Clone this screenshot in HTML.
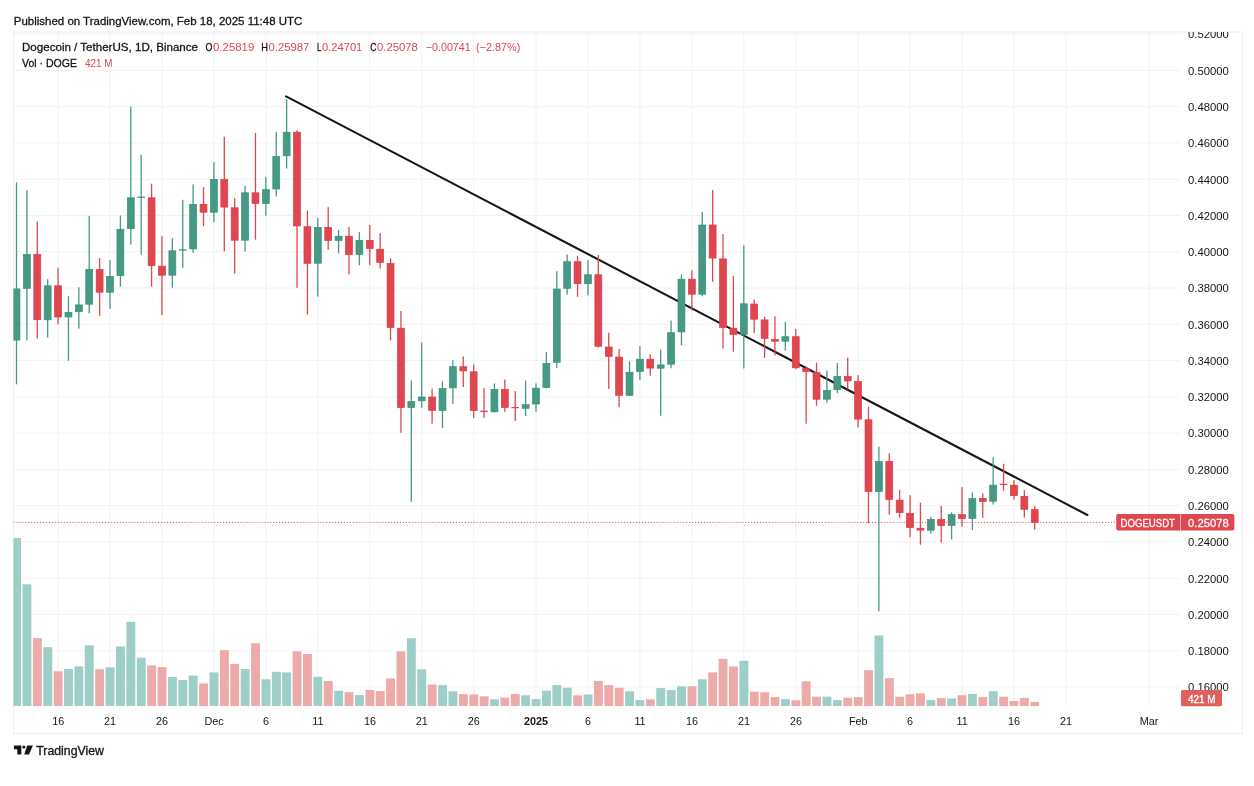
<!DOCTYPE html><html><head><meta charset="utf-8"><title>DOGEUSDT chart</title>
<style>html,body{margin:0;padding:0;background:#fff}svg{display:block;filter:blur(0.4px)}text{font-family:"Liberation Sans",sans-serif;fill:#161616;stroke:currentColor;stroke-width:0}.k{stroke:#161616;stroke-width:.3px}</style></head><body>
<svg width="1254" height="786" viewBox="0 0 1254 786">
<rect width="1254" height="786" fill="#fff"/>
<defs><clipPath id="pane"><rect x="13.5" y="32.0" width="1166.5" height="674.0"/></clipPath>
<clipPath id="axis"><rect x="1180.0" y="32.0" width="62.5" height="674.0"/></clipPath></defs>
<g stroke="#f2f2f2" stroke-width="1">
<line x1="58.06" y1="32.0" x2="58.06" y2="706.0"/>
<line x1="110.01" y1="32.0" x2="110.01" y2="706.0"/>
<line x1="161.96" y1="32.0" x2="161.96" y2="706.0"/>
<line x1="213.91" y1="32.0" x2="213.91" y2="706.0"/>
<line x1="265.86" y1="32.0" x2="265.86" y2="706.0"/>
<line x1="317.81" y1="32.0" x2="317.81" y2="706.0"/>
<line x1="369.76" y1="32.0" x2="369.76" y2="706.0"/>
<line x1="421.71" y1="32.0" x2="421.71" y2="706.0"/>
<line x1="473.66" y1="32.0" x2="473.66" y2="706.0"/>
<line x1="536.0" y1="32.0" x2="536.0" y2="706.0"/>
<line x1="587.95" y1="32.0" x2="587.95" y2="706.0"/>
<line x1="639.9" y1="32.0" x2="639.9" y2="706.0"/>
<line x1="691.85" y1="32.0" x2="691.85" y2="706.0"/>
<line x1="743.8" y1="32.0" x2="743.8" y2="706.0"/>
<line x1="795.75" y1="32.0" x2="795.75" y2="706.0"/>
<line x1="858.09" y1="32.0" x2="858.09" y2="706.0"/>
<line x1="910.04" y1="32.0" x2="910.04" y2="706.0"/>
<line x1="961.99" y1="32.0" x2="961.99" y2="706.0"/>
<line x1="1013.94" y1="32.0" x2="1013.94" y2="706.0"/>
<line x1="1065.89" y1="32.0" x2="1065.89" y2="706.0"/>
<line x1="1149.01" y1="32.0" x2="1149.01" y2="706.0"/>
<line x1="13.5" y1="34.12" x2="1180.0" y2="34.12"/>
<line x1="13.5" y1="70.4" x2="1180.0" y2="70.4"/>
<line x1="13.5" y1="106.67" x2="1180.0" y2="106.67"/>
<line x1="13.5" y1="142.95" x2="1180.0" y2="142.95"/>
<line x1="13.5" y1="179.23" x2="1180.0" y2="179.23"/>
<line x1="13.5" y1="215.5" x2="1180.0" y2="215.5"/>
<line x1="13.5" y1="251.78" x2="1180.0" y2="251.78"/>
<line x1="13.5" y1="288.05" x2="1180.0" y2="288.05"/>
<line x1="13.5" y1="324.33" x2="1180.0" y2="324.33"/>
<line x1="13.5" y1="360.6" x2="1180.0" y2="360.6"/>
<line x1="13.5" y1="396.88" x2="1180.0" y2="396.88"/>
<line x1="13.5" y1="433.15" x2="1180.0" y2="433.15"/>
<line x1="13.5" y1="469.42" x2="1180.0" y2="469.42"/>
<line x1="13.5" y1="505.7" x2="1180.0" y2="505.7"/>
<line x1="13.5" y1="541.98" x2="1180.0" y2="541.98"/>
<line x1="13.5" y1="578.25" x2="1180.0" y2="578.25"/>
<line x1="13.5" y1="614.52" x2="1180.0" y2="614.52"/>
<line x1="13.5" y1="650.8" x2="1180.0" y2="650.8"/>
<line x1="13.5" y1="687.07" x2="1180.0" y2="687.07"/>
</g>
<rect x="13.5" y="32.0" width="1229.0" height="701.5" fill="none" stroke="#eeeeee" stroke-width="1"/>
<g clip-path="url(#pane)">
<rect x="12.1" y="538.0" width="8.9" height="168.0" fill="#9dcec8"/>
<rect x="22.5" y="584.3" width="8.9" height="121.7" fill="#9dcec8"/>
<rect x="32.9" y="638.1" width="8.9" height="67.9" fill="#ecaaa9"/>
<rect x="43.3" y="647.2" width="8.9" height="58.8" fill="#9dcec8"/>
<rect x="53.7" y="671.3" width="8.9" height="34.7" fill="#ecaaa9"/>
<rect x="64.0" y="669" width="8.9" height="37.0" fill="#9dcec8"/>
<rect x="74.4" y="666.4" width="8.9" height="39.6" fill="#9dcec8"/>
<rect x="84.8" y="645.4" width="8.9" height="60.6" fill="#9dcec8"/>
<rect x="95.2" y="669.2" width="8.9" height="36.8" fill="#ecaaa9"/>
<rect x="105.6" y="667.4" width="8.9" height="38.6" fill="#9dcec8"/>
<rect x="116.0" y="646.5" width="8.9" height="59.5" fill="#9dcec8"/>
<rect x="126.4" y="621.8" width="8.9" height="84.2" fill="#9dcec8"/>
<rect x="136.8" y="657.7" width="8.9" height="48.3" fill="#9dcec8"/>
<rect x="147.2" y="665.5" width="8.9" height="40.5" fill="#ecaaa9"/>
<rect x="157.6" y="667.1" width="8.9" height="38.9" fill="#ecaaa9"/>
<rect x="168.0" y="677" width="8.9" height="29.0" fill="#9dcec8"/>
<rect x="178.3" y="680" width="8.9" height="26.0" fill="#9dcec8"/>
<rect x="188.7" y="675.6" width="8.9" height="30.4" fill="#9dcec8"/>
<rect x="199.1" y="683.4" width="8.9" height="22.6" fill="#ecaaa9"/>
<rect x="209.5" y="672.4" width="8.9" height="33.6" fill="#9dcec8"/>
<rect x="219.9" y="650.2" width="8.9" height="55.8" fill="#ecaaa9"/>
<rect x="230.3" y="663.9" width="8.9" height="42.1" fill="#ecaaa9"/>
<rect x="240.7" y="669" width="8.9" height="37.0" fill="#9dcec8"/>
<rect x="251.1" y="643.2" width="8.9" height="62.8" fill="#ecaaa9"/>
<rect x="261.5" y="679.3" width="8.9" height="26.7" fill="#9dcec8"/>
<rect x="271.9" y="671.8" width="8.9" height="34.2" fill="#9dcec8"/>
<rect x="282.2" y="672.4" width="8.9" height="33.6" fill="#9dcec8"/>
<rect x="292.6" y="651.4" width="8.9" height="54.6" fill="#ecaaa9"/>
<rect x="303.0" y="654" width="8.9" height="52.0" fill="#ecaaa9"/>
<rect x="313.4" y="676.8" width="8.9" height="29.2" fill="#9dcec8"/>
<rect x="323.8" y="680.9" width="8.9" height="25.1" fill="#ecaaa9"/>
<rect x="334.2" y="690.9" width="8.9" height="15.1" fill="#9dcec8"/>
<rect x="344.6" y="692.1" width="8.9" height="13.9" fill="#ecaaa9"/>
<rect x="355.0" y="695.1" width="8.9" height="10.9" fill="#9dcec8"/>
<rect x="365.4" y="689.9" width="8.9" height="16.1" fill="#ecaaa9"/>
<rect x="375.8" y="691.1" width="8.9" height="14.9" fill="#ecaaa9"/>
<rect x="386.1" y="678.5" width="8.9" height="27.5" fill="#ecaaa9"/>
<rect x="396.5" y="651.4" width="8.9" height="54.6" fill="#ecaaa9"/>
<rect x="406.9" y="638.3" width="8.9" height="67.7" fill="#9dcec8"/>
<rect x="417.3" y="669.4" width="8.9" height="36.6" fill="#9dcec8"/>
<rect x="427.7" y="684.5" width="8.9" height="21.5" fill="#ecaaa9"/>
<rect x="438.1" y="685.1" width="8.9" height="20.9" fill="#9dcec8"/>
<rect x="448.5" y="691.3" width="8.9" height="14.7" fill="#9dcec8"/>
<rect x="458.9" y="694.1" width="8.9" height="11.9" fill="#ecaaa9"/>
<rect x="469.3" y="694.5" width="8.9" height="11.5" fill="#ecaaa9"/>
<rect x="479.7" y="696.3" width="8.9" height="9.7" fill="#ecaaa9"/>
<rect x="490.0" y="699.3" width="8.9" height="6.7" fill="#9dcec8"/>
<rect x="500.4" y="697.7" width="8.9" height="8.3" fill="#ecaaa9"/>
<rect x="510.8" y="693.9" width="8.9" height="12.1" fill="#ecaaa9"/>
<rect x="521.2" y="695.3" width="8.9" height="10.7" fill="#9dcec8"/>
<rect x="531.6" y="699.1" width="8.9" height="6.9" fill="#9dcec8"/>
<rect x="542.0" y="690.7" width="8.9" height="15.3" fill="#9dcec8"/>
<rect x="552.4" y="685.1" width="8.9" height="20.9" fill="#9dcec8"/>
<rect x="562.8" y="687.7" width="8.9" height="18.3" fill="#9dcec8"/>
<rect x="573.2" y="695.3" width="8.9" height="10.7" fill="#ecaaa9"/>
<rect x="583.6" y="694.5" width="8.9" height="11.5" fill="#9dcec8"/>
<rect x="593.9" y="680.9" width="8.9" height="25.1" fill="#ecaaa9"/>
<rect x="604.3" y="685.1" width="8.9" height="20.9" fill="#ecaaa9"/>
<rect x="614.7" y="687.7" width="8.9" height="18.3" fill="#ecaaa9"/>
<rect x="625.1" y="691.3" width="8.9" height="14.7" fill="#9dcec8"/>
<rect x="635.5" y="700.1" width="8.9" height="5.9" fill="#9dcec8"/>
<rect x="645.9" y="699.3" width="8.9" height="6.7" fill="#ecaaa9"/>
<rect x="656.3" y="688.1" width="8.9" height="17.9" fill="#9dcec8"/>
<rect x="666.7" y="690.1" width="8.9" height="15.9" fill="#9dcec8"/>
<rect x="677.1" y="686.3" width="8.9" height="19.7" fill="#9dcec8"/>
<rect x="687.5" y="686.3" width="8.9" height="19.7" fill="#ecaaa9"/>
<rect x="697.8" y="679.3" width="8.9" height="26.7" fill="#9dcec8"/>
<rect x="708.2" y="672.4" width="8.9" height="33.6" fill="#ecaaa9"/>
<rect x="718.6" y="658.8" width="8.9" height="47.2" fill="#ecaaa9"/>
<rect x="729.0" y="666.4" width="8.9" height="39.6" fill="#ecaaa9"/>
<rect x="739.4" y="660.8" width="8.9" height="45.2" fill="#9dcec8"/>
<rect x="749.8" y="691.7" width="8.9" height="14.3" fill="#ecaaa9"/>
<rect x="760.2" y="692.3" width="8.9" height="13.7" fill="#ecaaa9"/>
<rect x="770.6" y="697.1" width="8.9" height="8.9" fill="#ecaaa9"/>
<rect x="781.0" y="699.1" width="8.9" height="6.9" fill="#9dcec8"/>
<rect x="791.4" y="700.3" width="8.9" height="5.7" fill="#ecaaa9"/>
<rect x="801.7" y="681.3" width="8.9" height="24.7" fill="#ecaaa9"/>
<rect x="812.1" y="696.7" width="8.9" height="9.3" fill="#ecaaa9"/>
<rect x="822.5" y="696.7" width="8.9" height="9.3" fill="#9dcec8"/>
<rect x="832.9" y="700.1" width="8.9" height="5.9" fill="#9dcec8"/>
<rect x="843.3" y="697.7" width="8.9" height="8.3" fill="#ecaaa9"/>
<rect x="853.7" y="697.1" width="8.9" height="8.9" fill="#ecaaa9"/>
<rect x="864.1" y="670.2" width="8.9" height="35.8" fill="#ecaaa9"/>
<rect x="874.5" y="635.5" width="8.9" height="70.5" fill="#9dcec8"/>
<rect x="884.9" y="678.2" width="8.9" height="27.8" fill="#ecaaa9"/>
<rect x="895.3" y="696.7" width="8.9" height="9.3" fill="#ecaaa9"/>
<rect x="905.6" y="694.3" width="8.9" height="11.7" fill="#ecaaa9"/>
<rect x="916.0" y="693.3" width="8.9" height="12.7" fill="#ecaaa9"/>
<rect x="926.4" y="700.1" width="8.9" height="5.9" fill="#9dcec8"/>
<rect x="936.8" y="698.1" width="8.9" height="7.9" fill="#ecaaa9"/>
<rect x="947.2" y="698.5" width="8.9" height="7.5" fill="#9dcec8"/>
<rect x="957.6" y="695.2" width="8.9" height="10.8" fill="#ecaaa9"/>
<rect x="968.0" y="693.9" width="8.9" height="12.1" fill="#9dcec8"/>
<rect x="978.4" y="696.9" width="8.9" height="9.1" fill="#ecaaa9"/>
<rect x="988.8" y="691.2" width="8.9" height="14.8" fill="#9dcec8"/>
<rect x="999.2" y="696.7" width="8.9" height="9.3" fill="#ecaaa9"/>
<rect x="1009.5" y="701" width="8.9" height="5.0" fill="#ecaaa9"/>
<rect x="1019.9" y="697.9" width="8.9" height="8.1" fill="#ecaaa9"/>
<rect x="1030.3" y="702" width="8.9" height="4.0" fill="#ecaaa9"/>
<line x1="286.1" y1="96.4" x2="1087.4" y2="515" stroke="#161616" stroke-width="2.1" stroke-linecap="round"/>
<rect x="15.85" y="182.4" width="1.3" height="201.9" fill="#469a84"/>
<rect x="13.05" y="288.9" width="6.9" height="51.2" fill="#469a84" stroke="#3a8f79" stroke-width="0.7"/>
<rect x="26.24" y="190.3" width="1.3" height="150.1" fill="#469a84"/>
<rect x="23.44" y="254.4" width="6.9" height="33.9" fill="#469a84" stroke="#3a8f79" stroke-width="0.7"/>
<rect x="36.63" y="221.5" width="1.3" height="117.0" fill="#df4750"/>
<rect x="33.83" y="254.4" width="6.9" height="65.3" fill="#df4750" stroke="#d93b46" stroke-width="0.7"/>
<rect x="47.02" y="279.2" width="1.3" height="58.3" fill="#469a84"/>
<rect x="44.22" y="285.8" width="6.9" height="34.0" fill="#469a84" stroke="#3a8f79" stroke-width="0.7"/>
<rect x="57.41" y="267.6" width="1.3" height="56.8" fill="#df4750"/>
<rect x="54.61" y="285.8" width="6.9" height="31.2" fill="#df4750" stroke="#d93b46" stroke-width="0.7"/>
<rect x="67.80" y="296.2" width="1.3" height="64.6" fill="#469a84"/>
<rect x="65.00" y="312.4" width="6.9" height="4.6" fill="#469a84" stroke="#3a8f79" stroke-width="0.7"/>
<rect x="78.19" y="287.3" width="1.3" height="41.4" fill="#469a84"/>
<rect x="75.39" y="304.9" width="6.9" height="6.8" fill="#469a84" stroke="#3a8f79" stroke-width="0.7"/>
<rect x="88.58" y="215.9" width="1.3" height="97.4" fill="#469a84"/>
<rect x="85.78" y="269.4" width="6.9" height="34.8" fill="#469a84" stroke="#3a8f79" stroke-width="0.7"/>
<rect x="98.97" y="258.0" width="1.3" height="57.8" fill="#df4750"/>
<rect x="96.17" y="269.4" width="6.9" height="22.8" fill="#df4750" stroke="#d93b46" stroke-width="0.7"/>
<rect x="109.36" y="260.1" width="1.3" height="48.7" fill="#469a84"/>
<rect x="106.56" y="276.4" width="6.9" height="15.8" fill="#469a84" stroke="#3a8f79" stroke-width="0.7"/>
<rect x="119.75" y="215.5" width="1.3" height="71.2" fill="#469a84"/>
<rect x="116.95" y="229.3" width="6.9" height="46.4" fill="#469a84" stroke="#3a8f79" stroke-width="0.7"/>
<rect x="130.14" y="106.7" width="1.3" height="137.9" fill="#469a84"/>
<rect x="127.34" y="197.8" width="6.9" height="30.9" fill="#469a84" stroke="#3a8f79" stroke-width="0.7"/>
<rect x="140.53" y="154.6" width="1.3" height="100.2" fill="#469a84"/>
<rect x="137.38" y="196.6" width="7.6" height="1.3" fill="#469a84"/>
<rect x="150.92" y="183.7" width="1.3" height="103.0" fill="#df4750"/>
<rect x="148.12" y="197.8" width="6.9" height="67.8" fill="#df4750" stroke="#d93b46" stroke-width="0.7"/>
<rect x="161.31" y="236.2" width="1.3" height="79.0" fill="#df4750"/>
<rect x="158.51" y="266.2" width="6.9" height="9.0" fill="#df4750" stroke="#d93b46" stroke-width="0.7"/>
<rect x="171.70" y="238.3" width="1.3" height="49.4" fill="#469a84"/>
<rect x="168.90" y="250.8" width="6.9" height="24.4" fill="#469a84" stroke="#3a8f79" stroke-width="0.7"/>
<rect x="182.09" y="199.8" width="1.3" height="68.0" fill="#469a84"/>
<rect x="178.94" y="249.3" width="7.6" height="1.4" fill="#469a84"/>
<rect x="192.48" y="184.4" width="1.3" height="68.5" fill="#469a84"/>
<rect x="189.68" y="204.4" width="6.9" height="44.5" fill="#469a84" stroke="#3a8f79" stroke-width="0.7"/>
<rect x="202.87" y="187.1" width="1.3" height="39.2" fill="#df4750"/>
<rect x="200.07" y="204.4" width="6.9" height="7.8" fill="#df4750" stroke="#d93b46" stroke-width="0.7"/>
<rect x="213.26" y="162.1" width="1.3" height="60.0" fill="#469a84"/>
<rect x="210.46" y="179.3" width="6.9" height="32.9" fill="#469a84" stroke="#3a8f79" stroke-width="0.7"/>
<rect x="223.65" y="136.7" width="1.3" height="114.6" fill="#df4750"/>
<rect x="220.85" y="179.3" width="6.9" height="27.8" fill="#df4750" stroke="#d93b46" stroke-width="0.7"/>
<rect x="234.04" y="198.1" width="1.3" height="75.4" fill="#df4750"/>
<rect x="231.24" y="207.8" width="6.9" height="32.4" fill="#df4750" stroke="#d93b46" stroke-width="0.7"/>
<rect x="244.43" y="185.7" width="1.3" height="65.9" fill="#469a84"/>
<rect x="241.63" y="192.8" width="6.9" height="47.4" fill="#469a84" stroke="#3a8f79" stroke-width="0.7"/>
<rect x="254.82" y="133.1" width="1.3" height="106.6" fill="#df4750"/>
<rect x="252.02" y="192.8" width="6.9" height="10.7" fill="#df4750" stroke="#d93b46" stroke-width="0.7"/>
<rect x="265.21" y="176.9" width="1.3" height="38.8" fill="#469a84"/>
<rect x="262.41" y="189.7" width="6.9" height="13.8" fill="#469a84" stroke="#3a8f79" stroke-width="0.7"/>
<rect x="275.60" y="131.9" width="1.3" height="64.6" fill="#469a84"/>
<rect x="272.80" y="156.5" width="6.9" height="32.5" fill="#469a84" stroke="#3a8f79" stroke-width="0.7"/>
<rect x="285.99" y="99.3" width="1.3" height="69.2" fill="#469a84"/>
<rect x="283.19" y="132.2" width="6.9" height="23.6" fill="#469a84" stroke="#3a8f79" stroke-width="0.7"/>
<rect x="296.38" y="130.2" width="1.3" height="157.6" fill="#df4750"/>
<rect x="293.58" y="132.2" width="6.9" height="93.7" fill="#df4750" stroke="#d93b46" stroke-width="0.7"/>
<rect x="306.77" y="210.5" width="1.3" height="104.1" fill="#df4750"/>
<rect x="303.97" y="226.7" width="6.9" height="36.6" fill="#df4750" stroke="#d93b46" stroke-width="0.7"/>
<rect x="317.16" y="218.1" width="1.3" height="78.5" fill="#469a84"/>
<rect x="314.36" y="227.4" width="6.9" height="35.8" fill="#469a84" stroke="#3a8f79" stroke-width="0.7"/>
<rect x="327.55" y="207.1" width="1.3" height="42.6" fill="#df4750"/>
<rect x="324.75" y="227.4" width="6.9" height="13.0" fill="#df4750" stroke="#d93b46" stroke-width="0.7"/>
<rect x="337.94" y="229.8" width="1.3" height="23.6" fill="#469a84"/>
<rect x="335.14" y="236.2" width="6.9" height="4.3" fill="#469a84" stroke="#3a8f79" stroke-width="0.7"/>
<rect x="348.33" y="226.9" width="1.3" height="47.5" fill="#df4750"/>
<rect x="345.53" y="236.2" width="6.9" height="18.3" fill="#df4750" stroke="#d93b46" stroke-width="0.7"/>
<rect x="358.72" y="232.0" width="1.3" height="33.2" fill="#469a84"/>
<rect x="355.92" y="240.4" width="6.9" height="14.0" fill="#469a84" stroke="#3a8f79" stroke-width="0.7"/>
<rect x="369.11" y="225.0" width="1.3" height="40.2" fill="#df4750"/>
<rect x="366.31" y="240.4" width="6.9" height="8.1" fill="#df4750" stroke="#d93b46" stroke-width="0.7"/>
<rect x="379.50" y="233.0" width="1.3" height="35.4" fill="#df4750"/>
<rect x="376.70" y="249.2" width="6.9" height="13.2" fill="#df4750" stroke="#d93b46" stroke-width="0.7"/>
<rect x="389.89" y="258.3" width="1.3" height="82.1" fill="#df4750"/>
<rect x="387.09" y="263.5" width="6.9" height="64.0" fill="#df4750" stroke="#d93b46" stroke-width="0.7"/>
<rect x="400.28" y="311.1" width="1.3" height="121.7" fill="#df4750"/>
<rect x="397.48" y="328.2" width="6.9" height="79.3" fill="#df4750" stroke="#d93b46" stroke-width="0.7"/>
<rect x="410.67" y="380.4" width="1.3" height="121.4" fill="#469a84"/>
<rect x="407.87" y="401.5" width="6.9" height="6.0" fill="#469a84" stroke="#3a8f79" stroke-width="0.7"/>
<rect x="421.06" y="342.4" width="1.3" height="65.4" fill="#469a84"/>
<rect x="418.26" y="397.0" width="6.9" height="3.8" fill="#469a84" stroke="#3a8f79" stroke-width="0.7"/>
<rect x="431.45" y="388.6" width="1.3" height="35.1" fill="#df4750"/>
<rect x="428.65" y="397.0" width="6.9" height="13.4" fill="#df4750" stroke="#d93b46" stroke-width="0.7"/>
<rect x="441.84" y="381.1" width="1.3" height="46.9" fill="#469a84"/>
<rect x="439.04" y="388.6" width="6.9" height="21.8" fill="#469a84" stroke="#3a8f79" stroke-width="0.7"/>
<rect x="452.23" y="360.2" width="1.3" height="43.6" fill="#469a84"/>
<rect x="449.43" y="366.7" width="6.9" height="21.2" fill="#469a84" stroke="#3a8f79" stroke-width="0.7"/>
<rect x="462.62" y="356.4" width="1.3" height="30.6" fill="#df4750"/>
<rect x="459.82" y="366.7" width="6.9" height="4.2" fill="#df4750" stroke="#d93b46" stroke-width="0.7"/>
<rect x="473.01" y="364.4" width="1.3" height="53.7" fill="#df4750"/>
<rect x="470.21" y="371.8" width="6.9" height="38.6" fill="#df4750" stroke="#d93b46" stroke-width="0.7"/>
<rect x="483.40" y="388.2" width="1.3" height="29.5" fill="#df4750"/>
<rect x="480.25" y="410.7" width="7.6" height="1.4" fill="#df4750"/>
<rect x="493.79" y="383.4" width="1.3" height="29.2" fill="#469a84"/>
<rect x="490.99" y="389.5" width="6.9" height="22.3" fill="#469a84" stroke="#3a8f79" stroke-width="0.7"/>
<rect x="504.18" y="379.6" width="1.3" height="32.2" fill="#df4750"/>
<rect x="501.38" y="389.5" width="6.9" height="18.0" fill="#df4750" stroke="#d93b46" stroke-width="0.7"/>
<rect x="514.57" y="391.0" width="1.3" height="30.0" fill="#df4750"/>
<rect x="511.42" y="407.0" width="7.6" height="1.2" fill="#df4750"/>
<rect x="524.96" y="380.4" width="1.3" height="35.8" fill="#469a84"/>
<rect x="522.16" y="404.7" width="6.9" height="3.6" fill="#469a84" stroke="#3a8f79" stroke-width="0.7"/>
<rect x="535.35" y="383.4" width="1.3" height="28.4" fill="#469a84"/>
<rect x="532.55" y="388.2" width="6.9" height="15.8" fill="#469a84" stroke="#3a8f79" stroke-width="0.7"/>
<rect x="545.74" y="352.0" width="1.3" height="36.3" fill="#469a84"/>
<rect x="542.94" y="363.5" width="6.9" height="24.0" fill="#469a84" stroke="#3a8f79" stroke-width="0.7"/>
<rect x="556.13" y="271.2" width="1.3" height="96.9" fill="#469a84"/>
<rect x="553.33" y="289.0" width="6.9" height="73.3" fill="#469a84" stroke="#3a8f79" stroke-width="0.7"/>
<rect x="566.52" y="254.5" width="1.3" height="40.1" fill="#469a84"/>
<rect x="563.72" y="261.7" width="6.9" height="26.6" fill="#469a84" stroke="#3a8f79" stroke-width="0.7"/>
<rect x="576.91" y="256.1" width="1.3" height="40.7" fill="#df4750"/>
<rect x="574.11" y="261.7" width="6.9" height="22.0" fill="#df4750" stroke="#d93b46" stroke-width="0.7"/>
<rect x="587.30" y="260.2" width="1.3" height="35.1" fill="#469a84"/>
<rect x="584.50" y="274.8" width="6.9" height="8.9" fill="#469a84" stroke="#3a8f79" stroke-width="0.7"/>
<rect x="597.69" y="255.0" width="1.3" height="92.4" fill="#df4750"/>
<rect x="594.89" y="274.8" width="6.9" height="71.5" fill="#df4750" stroke="#d93b46" stroke-width="0.7"/>
<rect x="608.08" y="332.7" width="1.3" height="56.2" fill="#df4750"/>
<rect x="605.28" y="347.0" width="6.9" height="9.4" fill="#df4750" stroke="#d93b46" stroke-width="0.7"/>
<rect x="618.47" y="349.0" width="1.3" height="58.2" fill="#df4750"/>
<rect x="615.67" y="357.1" width="6.9" height="38.2" fill="#df4750" stroke="#d93b46" stroke-width="0.7"/>
<rect x="628.86" y="361.3" width="1.3" height="34.5" fill="#469a84"/>
<rect x="626.06" y="372.2" width="6.9" height="23.1" fill="#469a84" stroke="#3a8f79" stroke-width="0.7"/>
<rect x="639.25" y="346.1" width="1.3" height="33.7" fill="#469a84"/>
<rect x="636.45" y="359.2" width="6.9" height="12.2" fill="#469a84" stroke="#3a8f79" stroke-width="0.7"/>
<rect x="649.64" y="354.3" width="1.3" height="21.5" fill="#df4750"/>
<rect x="646.84" y="359.2" width="6.9" height="8.9" fill="#df4750" stroke="#d93b46" stroke-width="0.7"/>
<rect x="660.03" y="349.5" width="1.3" height="66.2" fill="#469a84"/>
<rect x="657.23" y="364.9" width="6.9" height="3.3" fill="#469a84" stroke="#3a8f79" stroke-width="0.7"/>
<rect x="670.42" y="320.6" width="1.3" height="47.5" fill="#469a84"/>
<rect x="667.62" y="332.7" width="6.9" height="31.5" fill="#469a84" stroke="#3a8f79" stroke-width="0.7"/>
<rect x="680.81" y="274.4" width="1.3" height="70.9" fill="#469a84"/>
<rect x="678.01" y="279.2" width="6.9" height="52.7" fill="#469a84" stroke="#3a8f79" stroke-width="0.7"/>
<rect x="691.20" y="270.3" width="1.3" height="40.1" fill="#df4750"/>
<rect x="688.40" y="279.2" width="6.9" height="15.0" fill="#df4750" stroke="#d93b46" stroke-width="0.7"/>
<rect x="701.59" y="211.9" width="1.3" height="84.5" fill="#469a84"/>
<rect x="698.79" y="225.0" width="6.9" height="69.2" fill="#469a84" stroke="#3a8f79" stroke-width="0.7"/>
<rect x="711.98" y="190.0" width="1.3" height="91.8" fill="#df4750"/>
<rect x="709.18" y="225.0" width="6.9" height="33.1" fill="#df4750" stroke="#d93b46" stroke-width="0.7"/>
<rect x="722.37" y="234.2" width="1.3" height="114.3" fill="#df4750"/>
<rect x="719.57" y="258.9" width="6.9" height="68.6" fill="#df4750" stroke="#d93b46" stroke-width="0.7"/>
<rect x="732.76" y="276.2" width="1.3" height="75.5" fill="#df4750"/>
<rect x="729.96" y="328.2" width="6.9" height="6.2" fill="#df4750" stroke="#d93b46" stroke-width="0.7"/>
<rect x="743.15" y="245.4" width="1.3" height="123.1" fill="#469a84"/>
<rect x="740.35" y="303.8" width="6.9" height="30.6" fill="#469a84" stroke="#3a8f79" stroke-width="0.7"/>
<rect x="753.54" y="299.6" width="1.3" height="33.5" fill="#df4750"/>
<rect x="750.74" y="304.0" width="6.9" height="15.2" fill="#df4750" stroke="#d93b46" stroke-width="0.7"/>
<rect x="763.93" y="316.6" width="1.3" height="41.2" fill="#df4750"/>
<rect x="761.13" y="319.9" width="6.9" height="18.4" fill="#df4750" stroke="#d93b46" stroke-width="0.7"/>
<rect x="774.32" y="316.3" width="1.3" height="39.1" fill="#df4750"/>
<rect x="771.52" y="339.5" width="6.9" height="1.7" fill="#df4750" stroke="#d93b46" stroke-width="0.7"/>
<rect x="784.71" y="321.9" width="1.3" height="28.7" fill="#469a84"/>
<rect x="781.91" y="336.7" width="6.9" height="4.5" fill="#469a84" stroke="#3a8f79" stroke-width="0.7"/>
<rect x="795.10" y="329.1" width="1.3" height="40.2" fill="#df4750"/>
<rect x="792.30" y="336.7" width="6.9" height="31.1" fill="#df4750" stroke="#d93b46" stroke-width="0.7"/>
<rect x="805.49" y="366.2" width="1.3" height="57.5" fill="#df4750"/>
<rect x="802.69" y="368.5" width="6.9" height="2.9" fill="#df4750" stroke="#d93b46" stroke-width="0.7"/>
<rect x="815.88" y="362.6" width="1.3" height="43.1" fill="#df4750"/>
<rect x="813.08" y="372.4" width="6.9" height="26.8" fill="#df4750" stroke="#d93b46" stroke-width="0.7"/>
<rect x="826.27" y="370.5" width="1.3" height="32.1" fill="#469a84"/>
<rect x="823.47" y="390.4" width="6.9" height="8.8" fill="#469a84" stroke="#3a8f79" stroke-width="0.7"/>
<rect x="836.66" y="363.0" width="1.3" height="30.2" fill="#469a84"/>
<rect x="833.86" y="376.5" width="6.9" height="13.2" fill="#469a84" stroke="#3a8f79" stroke-width="0.7"/>
<rect x="847.05" y="357.8" width="1.3" height="31.9" fill="#df4750"/>
<rect x="844.25" y="376.5" width="6.9" height="4.4" fill="#df4750" stroke="#d93b46" stroke-width="0.7"/>
<rect x="857.44" y="375.0" width="1.3" height="52.4" fill="#df4750"/>
<rect x="854.64" y="381.6" width="6.9" height="37.5" fill="#df4750" stroke="#d93b46" stroke-width="0.7"/>
<rect x="867.83" y="406.6" width="1.3" height="116.7" fill="#df4750"/>
<rect x="865.03" y="419.8" width="6.9" height="71.7" fill="#df4750" stroke="#d93b46" stroke-width="0.7"/>
<rect x="878.22" y="446.5" width="1.3" height="164.8" fill="#469a84"/>
<rect x="875.42" y="461.6" width="6.9" height="29.9" fill="#469a84" stroke="#3a8f79" stroke-width="0.7"/>
<rect x="888.61" y="453.3" width="1.3" height="61.4" fill="#df4750"/>
<rect x="885.81" y="461.4" width="6.9" height="38.0" fill="#df4750" stroke="#d93b46" stroke-width="0.7"/>
<rect x="899.00" y="489.8" width="1.3" height="28.1" fill="#df4750"/>
<rect x="896.20" y="500.1" width="6.9" height="12.5" fill="#df4750" stroke="#d93b46" stroke-width="0.7"/>
<rect x="909.39" y="495.2" width="1.3" height="42.0" fill="#df4750"/>
<rect x="906.59" y="513.5" width="6.9" height="14.1" fill="#df4750" stroke="#d93b46" stroke-width="0.7"/>
<rect x="919.78" y="502.7" width="1.3" height="42.0" fill="#df4750"/>
<rect x="916.98" y="528.2" width="6.9" height="1.9" fill="#df4750" stroke="#d93b46" stroke-width="0.7"/>
<rect x="930.17" y="516.8" width="1.3" height="17.0" fill="#469a84"/>
<rect x="927.37" y="519.4" width="6.9" height="10.8" fill="#469a84" stroke="#3a8f79" stroke-width="0.7"/>
<rect x="940.56" y="506.1" width="1.3" height="36.5" fill="#df4750"/>
<rect x="937.76" y="519.4" width="6.9" height="6.2" fill="#df4750" stroke="#d93b46" stroke-width="0.7"/>
<rect x="950.95" y="512.3" width="1.3" height="27.1" fill="#469a84"/>
<rect x="948.15" y="514.6" width="6.9" height="11.0" fill="#469a84" stroke="#3a8f79" stroke-width="0.7"/>
<rect x="961.34" y="487.1" width="1.3" height="39.6" fill="#df4750"/>
<rect x="958.54" y="514.6" width="6.9" height="3.8" fill="#df4750" stroke="#d93b46" stroke-width="0.7"/>
<rect x="971.73" y="492.4" width="1.3" height="37.6" fill="#469a84"/>
<rect x="968.93" y="498.5" width="6.9" height="19.9" fill="#469a84" stroke="#3a8f79" stroke-width="0.7"/>
<rect x="982.12" y="493.2" width="1.3" height="24.7" fill="#df4750"/>
<rect x="979.32" y="498.5" width="6.9" height="2.8" fill="#df4750" stroke="#d93b46" stroke-width="0.7"/>
<rect x="992.51" y="457.4" width="1.3" height="47.1" fill="#469a84"/>
<rect x="989.71" y="485.2" width="6.9" height="16.0" fill="#469a84" stroke="#3a8f79" stroke-width="0.7"/>
<rect x="1002.90" y="463.8" width="1.3" height="27.0" fill="#df4750"/>
<rect x="999.75" y="483.8" width="7.6" height="1.2" fill="#df4750"/>
<rect x="1013.29" y="480.1" width="1.3" height="19.6" fill="#df4750"/>
<rect x="1010.49" y="485.2" width="6.9" height="10.4" fill="#df4750" stroke="#d93b46" stroke-width="0.7"/>
<rect x="1023.68" y="490.1" width="1.3" height="27.5" fill="#df4750"/>
<rect x="1020.88" y="496.4" width="6.9" height="12.9" fill="#df4750" stroke="#d93b46" stroke-width="0.7"/>
<rect x="1034.07" y="506.1" width="1.3" height="23.4" fill="#df4750"/>
<rect x="1031.27" y="509.7" width="6.9" height="12.8" fill="#df4750" stroke="#d93b46" stroke-width="0.7"/>
<line x1="13.5" y1="522.4" x2="1116" y2="522.4" stroke="#e34d55" stroke-width="1" stroke-dasharray="1.1 1.85"/>
</g>
<g class="k" clip-path="url(#axis)" font-size="11.4">
<text x="1188" y="38.4" textLength="40.8" lengthAdjust="spacingAndGlyphs">0.52000</text>
<text x="1188" y="74.7" textLength="40.8" lengthAdjust="spacingAndGlyphs">0.50000</text>
<text x="1188" y="111.0" textLength="40.8" lengthAdjust="spacingAndGlyphs">0.48000</text>
<text x="1188" y="147.2" textLength="40.8" lengthAdjust="spacingAndGlyphs">0.46000</text>
<text x="1188" y="183.5" textLength="40.8" lengthAdjust="spacingAndGlyphs">0.44000</text>
<text x="1188" y="219.8" textLength="40.8" lengthAdjust="spacingAndGlyphs">0.42000</text>
<text x="1188" y="256.1" textLength="40.8" lengthAdjust="spacingAndGlyphs">0.40000</text>
<text x="1188" y="292.4" textLength="40.8" lengthAdjust="spacingAndGlyphs">0.38000</text>
<text x="1188" y="328.6" textLength="40.8" lengthAdjust="spacingAndGlyphs">0.36000</text>
<text x="1188" y="364.9" textLength="40.8" lengthAdjust="spacingAndGlyphs">0.34000</text>
<text x="1188" y="401.2" textLength="40.8" lengthAdjust="spacingAndGlyphs">0.32000</text>
<text x="1188" y="437.4" textLength="40.8" lengthAdjust="spacingAndGlyphs">0.30000</text>
<text x="1188" y="473.7" textLength="40.8" lengthAdjust="spacingAndGlyphs">0.28000</text>
<text x="1188" y="510.0" textLength="40.8" lengthAdjust="spacingAndGlyphs">0.26000</text>
<text x="1188" y="546.3" textLength="40.8" lengthAdjust="spacingAndGlyphs">0.24000</text>
<text x="1188" y="582.5" textLength="40.8" lengthAdjust="spacingAndGlyphs">0.22000</text>
<text x="1188" y="618.8" textLength="40.8" lengthAdjust="spacingAndGlyphs">0.20000</text>
<text x="1188" y="655.1" textLength="40.8" lengthAdjust="spacingAndGlyphs">0.18000</text>
<text x="1188" y="691.4" textLength="40.8" lengthAdjust="spacingAndGlyphs">0.16000</text>
</g>
<rect x="1116.2" y="514.1" width="118.2" height="16.4" rx="2" fill="#e0474f"/>
<rect x="1180" y="514.1" width="1" height="16.4" fill="#f3b9bc"/>
<text x="1120.5" y="526.6" font-size="11.4" textLength="54.5" lengthAdjust="spacingAndGlyphs" style="fill:#fff;stroke:#fff;stroke-width:.3px">DOGEUSDT</text>
<text x="1188" y="526.6" font-size="11.4" textLength="40.8" lengthAdjust="spacingAndGlyphs" style="fill:#fff;stroke:#fff;stroke-width:.3px">0.25078</text>
<rect x="1181" y="690" width="41" height="16.3" rx="1.5" fill="#de615d"/>
<text x="1188" y="702.6" font-size="11.4" textLength="27.5" lengthAdjust="spacingAndGlyphs" style="fill:#fff;stroke:#fff;stroke-width:.3px">421 M</text>
<g class="k" font-size="10.8" text-anchor="middle">
<text x="58.2" y="724.5">16</text>
<text x="110.1" y="724.5">21</text>
<text x="162.1" y="724.5">26</text>
<text x="214.0" y="724.5">Dec</text>
<text x="266.0" y="724.5">6</text>
<text x="317.9" y="724.5">11</text>
<text x="369.9" y="724.5">16</text>
<text x="421.8" y="724.5">21</text>
<text x="473.8" y="724.5">26</text>
<text x="536.1" y="724.5" font-weight="bold">2025</text>
<text x="588.1" y="724.5">6</text>
<text x="640.0" y="724.5">11</text>
<text x="692.0" y="724.5">16</text>
<text x="743.9" y="724.5">21</text>
<text x="795.9" y="724.5">26</text>
<text x="858.2" y="724.5">Feb</text>
<text x="910.1" y="724.5">6</text>
<text x="962.1" y="724.5">11</text>
<text x="1014.0" y="724.5">16</text>
<text x="1066.0" y="724.5">21</text>
<text x="1149.1" y="724.5">Mar</text>
</g>
<text class="k" x="13.8" y="24.6" font-size="11.6" textLength="288.5" lengthAdjust="spacingAndGlyphs">Published on TradingView.com, Feb 18, 2025 11:48 UTC</text>
<g font-size="11.4">
<text class="k" x="22" y="51.1" textLength="176" lengthAdjust="spacingAndGlyphs">Dogecoin / TetherUS, 1D, Binance</text>
<text class="k" x="205.5" y="51.1" textLength="6.9" lengthAdjust="spacingAndGlyphs">O</text>
<text x="213" y="51.1" textLength="41.3" lengthAdjust="spacingAndGlyphs" style="fill:#e0474f">0.25819</text>
<text class="k" x="261.3" y="51.1" textLength="6.7" lengthAdjust="spacingAndGlyphs">H</text>
<text x="268.6" y="51.1" textLength="40.8" lengthAdjust="spacingAndGlyphs" style="fill:#e0474f">0.25987</text>
<text class="k" x="316.9" y="51.1" textLength="4.5" lengthAdjust="spacingAndGlyphs">L</text>
<text x="322" y="51.1" textLength="40.3" lengthAdjust="spacingAndGlyphs" style="fill:#e0474f">0.24701</text>
<text class="k" x="370.3" y="51.1" textLength="6.2" lengthAdjust="spacingAndGlyphs">C</text>
<text x="377.1" y="51.1" textLength="40.8" lengthAdjust="spacingAndGlyphs" style="fill:#e0474f">0.25078</text>
<text x="425.9" y="51.1" textLength="44.7" lengthAdjust="spacingAndGlyphs" style="fill:#e0474f">−0.00741</text>
<text x="476.1" y="51.1" textLength="44.2" lengthAdjust="spacingAndGlyphs" style="fill:#e0474f">(−2.87%)</text>
<text class="k" x="22" y="67" textLength="55" lengthAdjust="spacingAndGlyphs">Vol · DOGE</text>
<text x="84.9" y="67" textLength="27.5" lengthAdjust="spacingAndGlyphs" style="fill:#e0474f">421 M</text>
</g>
<g fill="#131313"><path d="M13.9 745.4H21.3V754.6H17.3V749.3H13.9Z"/><path d="M27.2 745.4H32.9L29 754.6H24.2Z"/><circle cx="23.9" cy="747" r="1.55"/></g>
<text class="k" x="36.3" y="754.6" font-size="12" textLength="67.6" lengthAdjust="spacingAndGlyphs">TradingView</text>
</svg></body></html>
